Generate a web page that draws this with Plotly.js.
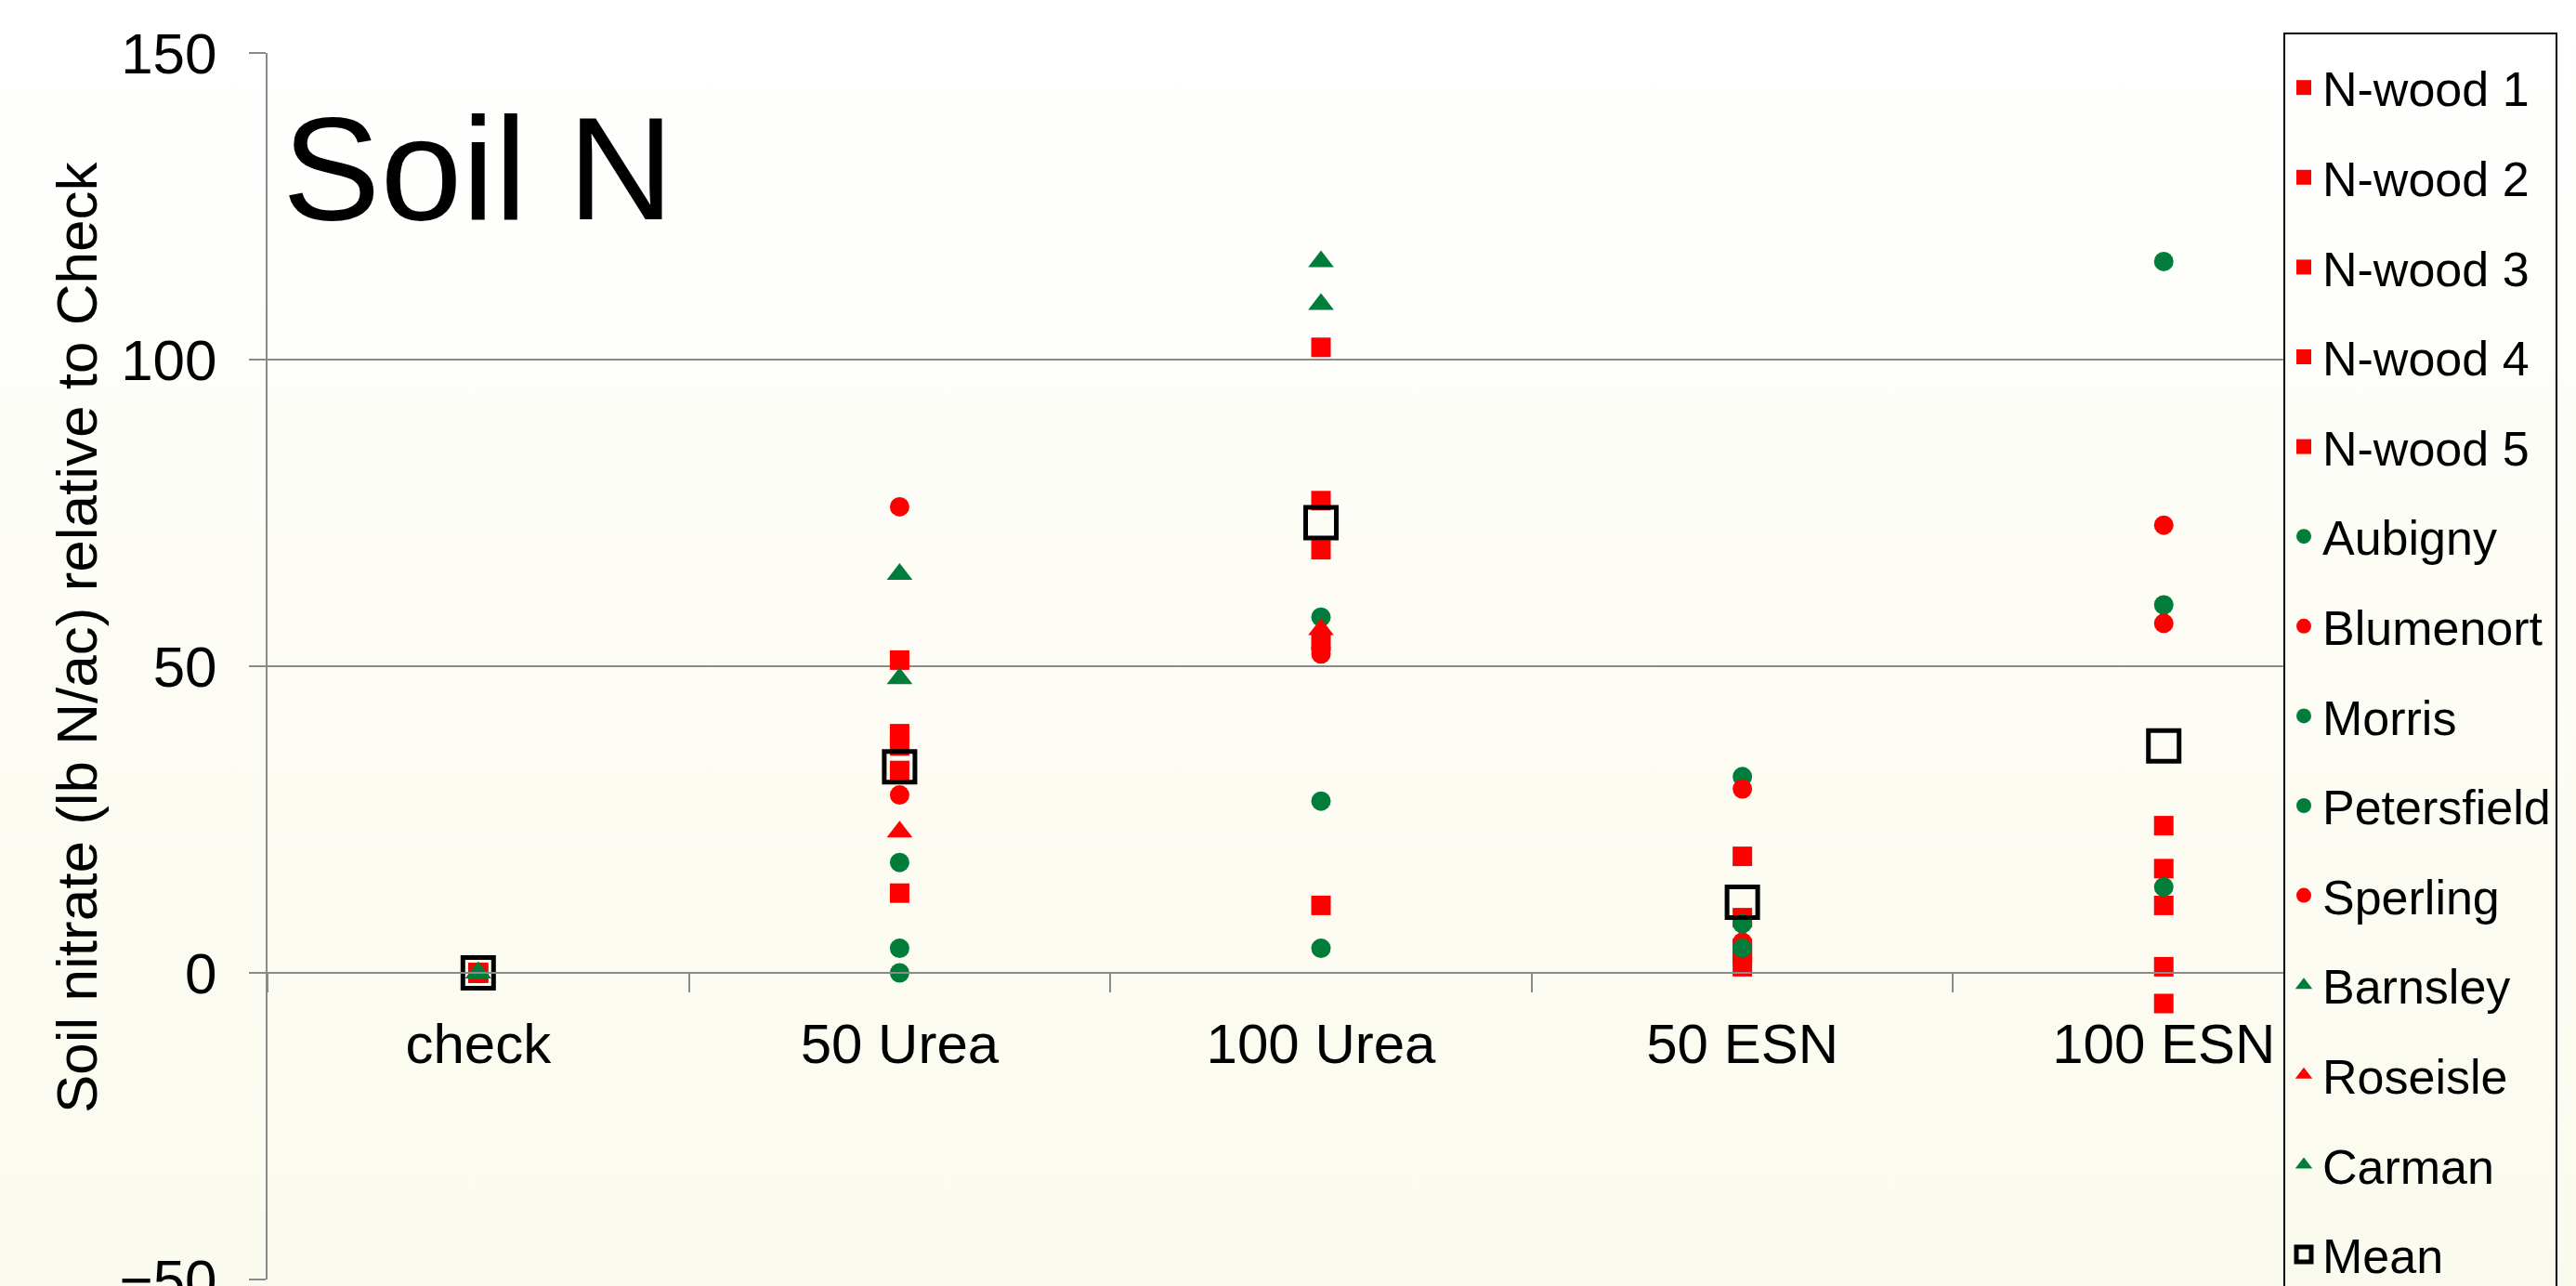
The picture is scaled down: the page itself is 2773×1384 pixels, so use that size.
<!DOCTYPE html>
<html>
<head>
<meta charset="utf-8">
<script src="https://cdn.plot.ly/plotly-3.0.1.min.js"></script>
<style>
  html, body { margin: 0; padding: 0; }
  body {
    width: 2773px; height: 1384px; overflow: hidden;
    background: linear-gradient(to bottom, #ffffff 0%, #fdfdf6 45%, #fafaee 100%);
  }
  #chart { width: 2773px; height: 1384px; }
</style>
</head>
<body>
<div id="chart"></div>
<script>
// ---- data ----
const categories = ['check', '50 Urea', '100 Urea', '50 ESN', '100 ESN'];

const nwood1      = [0, 51, 102, 19, 24];
const nwood2      = [0, 39, 77, 9, 17];
const nwood3      = [0, 37, 69, 4, 11];
const nwood4      = [0, 33, 54, 3, 1];
const nwood5      = [0, 13, 11, 1, -5];
const aubigny     = [0, 18, 58, 32, 60];
const blumenort   = [0, 76, 53, 5, 57];
const morris      = [0, 4, 28, 8, 116];
const petersfield = [0, 0, 4, 4, 14];
const sperling    = [0, 29, 52, 30, 73];
const barnsley    = [0, 65, 116, null, null];
const roseisle    = [0, 23, 56, null, null];
const carman      = [0, 48, 109, null, null];
const meanVals    = [0, 33.6, 73.4, 11.5, 37];

const seriesNames = ['N-wood 1', 'N-wood 2', 'N-wood 3', 'N-wood 4', 'N-wood 5',
  'Aubigny', 'Blumenort', 'Morris', 'Petersfield', 'Sperling',
  'Barnsley', 'Roseisle', 'Carman', 'Mean'];
const seriesValues = [nwood1, nwood2, nwood3, nwood4, nwood5,
  aubigny, blumenort, morris, petersfield, sperling,
  barnsley, roseisle, carman, meanVals];

const yTitle = 'Soil nitrate (lb N/ac) relative to Check';
const chartTitle = 'Soil N';

// ---- styles ----
const RED = '#ff0000';
const GREEN = '#007d3a';
const styles = {
  'N-wood 1': {symbol: 'square', color: RED},
  'N-wood 2': {symbol: 'square', color: RED},
  'N-wood 3': {symbol: 'square', color: RED},
  'N-wood 4': {symbol: 'square', color: RED},
  'N-wood 5': {symbol: 'square', color: RED},
  'Aubigny': {symbol: 'circle', color: GREEN},
  'Blumenort': {symbol: 'circle', color: RED},
  'Morris': {symbol: 'circle', color: GREEN},
  'Petersfield': {symbol: 'circle', color: GREEN},
  'Sperling': {symbol: 'circle', color: RED},
  'Barnsley': {symbol: 'triangle-up', color: GREEN},
  'Roseisle': {symbol: 'triangle-up', color: RED},
  'Carman': {symbol: 'triangle-up', color: GREEN}
};

const FONT = 'Liberation Sans, Arial, Helvetica, sans-serif';
const GRID = '#8a8a8a';

const traces = seriesNames.map((name, i) => {
  const isMean = name === 'Mean';
  const st = styles[name];
  return {
    type: 'scatter',
    mode: 'markers',
    name: name,
    legendgroup: name,
    x: categories,
    y: seriesValues[i],
    cliponaxis: false,
    marker: isMean
      ? {symbol: 'square-open', size: 33, color: '#000000', line: {width: 5, color: '#000000'}}
      : {symbol: st.symbol, size: st.symbol === 'triangle-up' ? 24 : 21, color: st.color, line: {width: 0}}
  };
});

const W = 2773, H = 1384;
const plotLeft = 288, plotRight = 2458, plotTop = 57, plotBottom = 1377;
const catWidth = 453.5;
const plotW = plotRight - plotLeft, plotH = plotBottom - plotTop;

const layout = {
  width: W, height: H,
  paper_bgcolor: 'rgba(0,0,0,0)',
  plot_bgcolor: 'rgba(0,0,0,0)',
  margin: {l: plotLeft, r: W - plotRight, t: plotTop, b: H - plotBottom, pad: 0},
  font: {family: FONT, color: '#000000'},
  showlegend: true,
  title: {
    text: chartTitle,
    font: {family: FONT, size: 158, color: '#000000'},
    xref: 'container', x: 304 / W, xanchor: 'left',
    yref: 'container', y: 1 - 181 / H, yanchor: 'middle'
  },
  annotations: [{
    text: yTitle,
    textangle: -90,
    xref: 'paper', x: (82 - plotLeft) / plotW, xanchor: 'center',
    yref: 'paper', y: (plotBottom - 686) / plotH, yanchor: 'middle',
    showarrow: false,
    font: {family: FONT, size: 62, color: '#000000'}
  }],
  xaxis: {
    type: 'category',
    categoryorder: 'array',
    categoryarray: categories,
    range: [-0.5, 4.5 - (2556 - plotRight) / catWidth],
    anchor: 'free',
    position: 0.25,
    showline: true, linecolor: GRID, linewidth: 2,
    showgrid: false, zeroline: false,
    ticks: 'outside', tickson: 'boundaries', ticklen: 20, tickwidth: 2, tickcolor: GRID,
    tickfont: {family: FONT, size: 60, color: '#000000'},
    ticklabelstandoff: 24,
    fixedrange: true
  },
  yaxis: {
    range: [-50, 150],
    tick0: 0, dtick: 50,
    showgrid: true, gridcolor: GRID, gridwidth: 2,
    zeroline: false,
    showline: true, linecolor: GRID, linewidth: 2,
    ticks: 'outside', ticklen: 18, tickwidth: 2, tickcolor: GRID,
    tickfont: {family: FONT, size: 62, color: '#000000'},
    ticklabelstandoff: 22,
    ticklabeloverflow: 'allow',
    fixedrange: true
  },
  legend: {
    xref: 'container', yref: 'container',
    x: plotRight / W, xanchor: 'left',
    y: 1 - 35 / H, yanchor: 'top',
    bgcolor: 'rgba(0,0,0,0)',
    bordercolor: '#000000', borderwidth: 2,
    font: {family: FONT, size: 52, color: '#000000'},
    title: {text: ' ', font: {family: FONT, size: 13}},
    tracegroupgap: 26,
    itemwidth: 30,
    maxheight: 5000,
    orientation: 'v'
  }
};

Plotly.newPlot('chart', traces, layout, {displayModeBar: false, staticPlot: true});
</script>
</body>
</html>
